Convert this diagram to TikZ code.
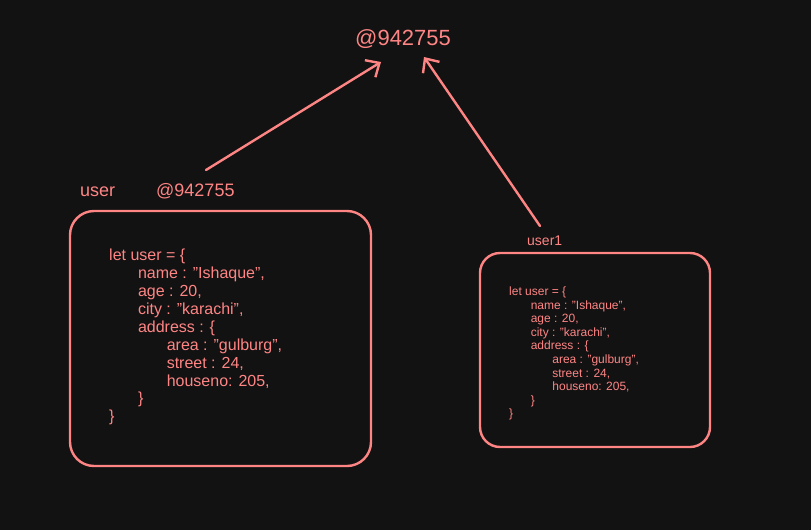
\documentclass[tikz,border=0pt]{standalone}
\usepackage{fontspec}
\setmainfont{Liberation Sans}
\usetikzlibrary{arrows.meta}
\definecolor{bgdark}{HTML}{121212}
\definecolor{salmon}{HTML}{FF8585}
\newcommand{\ind}{\hspace*{1.8em}}
\newcommand{\objcode}{let user = \{\\
	\ind name : "Ishaque",\\
	\ind age : 20,\\
	\ind city : "karachi",\\
	\ind address : \{\\
	\ind\ind area : "gulburg",\\
	\ind\ind street : 24,\\
	\ind\ind houseno: 205,\\
	\ind \}\\
	\}}
\tikzset{
	objbox/.style={draw=salmon, line width=2.4pt, rounded corners=24pt, inner sep=0pt},
	codetext/.style={text=salmon, anchor=north west, inner sep=0pt, align=left},
	tag/.style={text=salmon, anchor=base west, inner sep=0pt},
	ref/.style={draw=salmon, line width=2.4pt, -{Straight Barb[length=11pt, width=20pt, line width=2.4pt]}},
}
\begin{document}
\begin{tikzpicture}[x=1pt, y=-1pt, line join=round, line cap=round]
	\fill[bgdark] (0,0) rectangle (811,530);
	% address in memory
	\node[tag, font=\fontsize{22}{24}\selectfont] (mem) at (355,45) {@942755};
	% first variable
	\node[tag, font=\fontsize{18}{20}\selectfont] (name1) at (80,196) {user};
	\node[tag, font=\fontsize{18}{20}\selectfont] (addr1) at (156,196) {@942755};
	\node[objbox, minimum width=301pt, minimum height=255pt] (obj1) at (220.5,338.5) {};
	\node[codetext, font=\fontsize{16}{17.9}\selectfont] (code1) at (109,249) {\objcode};
	% second variable
	\node[tag, font=\fontsize{14}{16}\selectfont] (name2) at (527,245) {user1};
	\node[objbox, rounded corners=20pt, minimum width=230pt, minimum height=194pt] (obj2) at (595,350) {};
	\node[codetext, font=\fontsize{12}{13.6}\selectfont] (code2) at (509,286.5) {\objcode};
	% references
	\coordinate (from1) at (206,170);
	\coordinate (to1) at (381,62);
	\coordinate (from2) at (540,226);
	\coordinate (to2) at (424,57);
	\draw[ref] (from1) -- (to1);
	\draw[ref] (from2) -- (to2);
\end{tikzpicture}
\end{document}
